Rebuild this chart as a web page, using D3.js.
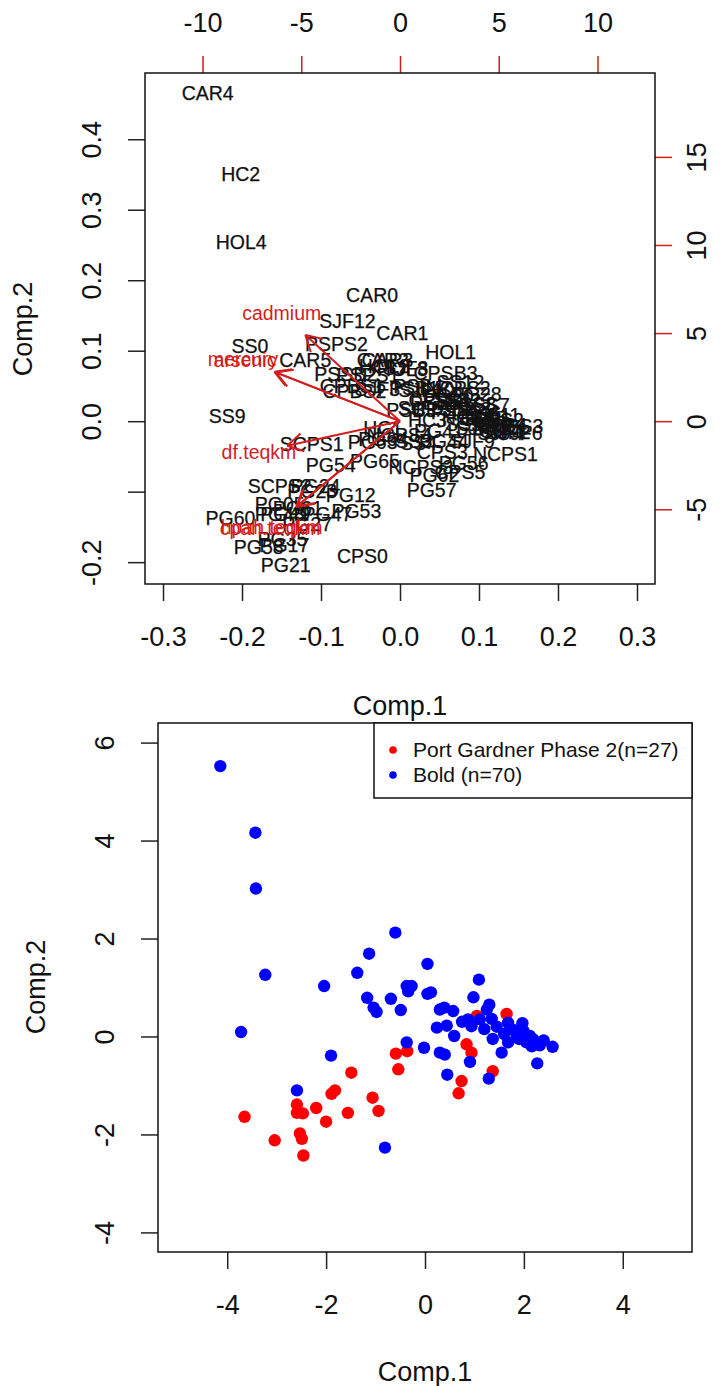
<!DOCTYPE html>
<html>
<head>
<meta charset="utf-8">
<script src="https://cdn.jsdelivr.net/npm/d3@7"></script>
<style>
  body { margin: 0; background: #fff; }
  text { font-family: "Liberation Sans", Arial, sans-serif; }
</style>
</head>
<body>
<script>
// Port Gardner Phase 2 sites (red) - PCA scores
const pgSites = ["PG28", "PG30", "PG41", "PG44", "PG63", "PG64", "PG65", "PG56", "PG62", "PG57",
                 "PG54", "PG23", "PG24", "PG12", "PG53", "PG47", "PG27", "PG61", "PG21", "PG35",
                 "PG17", "PG05", "PG48", "PG49", "PG58", "PG60"];
const pgComp1 = [1.65, 1.05, 0.84, 0.94, -0.59, -0.36, -0.54, 1.37, 0.74, 0.68,
                 -1.49, -1.89, -1.82, -1.06, -0.94, -1.56, -2.00, -2.20, -2.46, -2.53,
                 -2.49, -2.59, -2.59, -2.47, -3.04, -3.65];
const pgComp2 = [0.46, 0.42, -0.16, -0.33, -0.35, -0.30, -0.67, -0.71, -0.91, -1.16,
                 -0.74, -1.17, -1.10, -1.25, -1.52, -1.56, -1.74, -1.46, -2.43, -1.98,
                 -2.09, -1.39, -1.56, -1.57, -2.12, -1.64];

// Bold sites (blue)
const boldSites = ["CAR4", "HC2", "HOL4", "CAR0", "SJF12", "SS0", "PSPS2", "CAR5", "PSSB2", "CPBS1",
                   "CPBS2", "PSPS1", "SJF3", "CAR2", "CAR3", "HOL2", "CAR1", "HOL3", "SJF8", "HOL1",
                   "CPSB3", "PSB1", "PSB4", "SJF10", "SS12", "NCPS2", "CPSB1", "CPSB2", "SS1", "SS2",
                   "PSB3", "SJF5", "HC3", "HC1", "NCPS4", "SS3", "SS4", "SS5", "SS8", "SS6",
                   "SS7", "CPS1", "CPS2", "CPS4", "SJF1", "SJF2", "SJF4", "SJF6", "SJF7", "SJF9",
                   "NCPS1", "CPS3", "NCPS3", "CPS5", "SCPS1", "SCPS2", "SS9", "CPS0", "SJF11", "SS10",
                   "SS11", "NCPS5", "PSB5", "PSB6", "SCPS3", "SS13"];
const boldComp1 = [-4.14, -3.43, -3.42, -0.60, -1.13, -3.23, -1.37, -2.04, -1.17, -1.04,
                   -0.98, -0.69, -0.49, -0.37, -0.27, -0.34, 0.05, 0.05, 0.12, 1.09,
                   0.98, 0.30, 0.39, 0.57, 1.30, 1.25, 0.87, 0.94, 1.11, 1.35,
                   0.24, 0.44, 0.59, -0.37, -0.02, 0.30, 0.40, 1.37, 1.68, 1.78,
                   1.97, 1.85, 2.12, 2.19, 2.22, 2.32, 2.16, 2.58, 1.68, 1.55,
                   2.27, 0.91, 0.45, 1.29, -1.90, -2.59, -3.72, -0.81, 2.00, 1.90,
                   2.05, 1.60, 0.75, 1.20, 2.40, 1.45];
const boldComp2 = [5.52, 4.16, 3.02, 2.12, 1.69, 1.26, 1.30, 1.03, 0.79, 0.59,
                   0.50, 0.77, 0.54, 1.03, 1.03, 0.92, 1.48, 0.87, 0.90, 1.16,
                   0.80, 0.55, 0.59, 0.52, 0.65, 0.55, 0.35, 0.21, 0.35, 0.36,
                   0.18, 0.22, 0.01, -0.12, -0.23, -0.33, -0.37, -0.05, 0.28, 0.14,
                   0.27, 0.04, 0.01, -0.06, -0.16, -0.18, -0.20, -0.21, -0.12, -0.33,
                   -0.55, -0.52, -0.78, -0.86, -0.39, -1.10, 0.09, -2.27, 0.10, -0.05,
                   -0.12, 0.05, 0.30, 0.15, -0.08, 0.20];

// variable loadings (red arrows, top/right axis units)
const loadNames = ["cadmium", "arsenic", "mercury", "df.teqkm", "hpah.teqkm", "cpah.teqkm"];
const loadComp1 = [-5.99, -7.85, -7.95, -7.14, -6.50, -6.58];
const loadComp2 = [6.11, 3.46, 3.50, -1.74, -6.02, -6.09];

// tick values / labels
const biXTicks = [-0.3, -0.2, -0.1, 0, 0.1, 0.2, 0.3];
const biYTicks = [-0.2, -0.1, 0, 0.1, 0.2, 0.3, 0.4];
const biYShown = [-0.2, 0, 0.1, 0.2, 0.3, 0.4];
const redXTicks = [-10, -5, 0, 5, 10];
const redYTicks = [-5, 0, 5, 10, 15];
const scXTicks = [-4, -2, 0, 2, 4];
const scYTicks = [-4, -2, 0, 2, 4, 6];
const legendLabels = ["Port Gardner Phase 2(n=27)", "Bold (n=70)"];
const groupColors = ["#ff0000", "#0000ff"];

const red = "#d41e1e";
const ink = "#111";

const svg = d3.select("body").append("svg")
  .attr("width", 722).attr("height", 1386)
  .style("background", "#fff");

// ---------- top panel: biplot ----------
const ratio = 40;          // loadings axis / scores axis
const scoreScale = [0.0588, 0.0843];  // biplot scaling of scores
const xTop = d3.scaleLinear().domain([-0.3228, 0.3228]).range([145, 655]);
const yTop = d3.scaleLinear().domain([-0.231, 0.494]).range([584, 73]);
const xRed = d3.scaleLinear().domain(xTop.domain().map(d => d * ratio)).range(xTop.range());
const yRed = d3.scaleLinear().domain(yTop.domain().map(d => d * ratio)).range(yTop.range());

function tidy(g, col) {
  g.select(".domain").remove();
  g.selectAll(".tick line").attr("stroke", col).attr("stroke-width", 1.5);
  g.selectAll(".tick text").attr("fill", ink).style("font-size", "27px");
}

svg.append("g").attr("transform", "translate(0,584)")
  .call(d3.axisBottom(xTop).tickValues(biXTicks).tickSize(17).tickFormat(d => d.toFixed(1)))
  .call(g => tidy(g, "#222"))
  .call(g => g.selectAll(".tick text").attr("y", 53).attr("dy", "0.35em"));

svg.append("g").attr("transform", "translate(145,0)")
  .call(d3.axisLeft(yTop).tickValues(biYTicks).tickSize(17)
    .tickFormat(d => biYShown.includes(d) ? d.toFixed(1) : ""))
  .call(g => tidy(g, "#222"))
  .call(g => g.selectAll(".tick text").attr("transform", "rotate(-90)")
    .attr("x", 0).attr("y", -53).attr("dy", "0.35em").attr("text-anchor", "middle"));

svg.append("g").attr("transform", "translate(0,73)")
  .call(d3.axisTop(xRed).tickValues(redXTicks).tickSize(17).tickFormat(d => String(d)))
  .call(g => tidy(g, red))
  .call(g => g.selectAll(".tick text").attr("y", -50).attr("dy", "0.35em"));

svg.append("g").attr("transform", "translate(655,0)")
  .call(d3.axisRight(yRed).tickValues(redYTicks).tickSize(17).tickFormat(d => String(d)))
  .call(g => tidy(g, red))
  .call(g => g.selectAll(".tick text").attr("transform", "rotate(-90)")
    .attr("x", 0).attr("y", 42).attr("dy", "0.35em").attr("text-anchor", "middle"));

svg.append("rect").attr("x", 145).attr("y", 73).attr("width", 510).attr("height", 511)
  .attr("fill", "none").attr("stroke", "#111").attr("stroke-width", 1.5);

// site labels
const sites = [];
pgSites.forEach((s, i) => sites.push({ name: s, c1: pgComp1[i], c2: pgComp2[i] }));
boldSites.forEach((s, i) => sites.push({ name: s, c1: boldComp1[i], c2: boldComp2[i] }));

svg.append("g").selectAll("text").data(sites).join("text")
  .attr("x", d => xTop(d.c1 * scoreScale[0]))
  .attr("y", d => yTop(d.c2 * scoreScale[1]))
  .attr("dy", "0.35em")
  .attr("text-anchor", "middle")
  .style("font-size", "19.5px")
  .attr("fill", ink)
  .attr("stroke", ink).attr("stroke-width", 0.25)
  .text(d => d.name);

// arrows
const loads = loadNames.map((n, i) => ({ name: n, c1: loadComp1[i], c2: loadComp2[i] }));
const ag = svg.append("g").attr("stroke", red).attr("stroke-width", 2).attr("fill", "none");
loads.forEach(d => {
  const x0 = xRed(0), y0 = yRed(0);
  const x1 = xRed(d.c1 * 0.8), y1 = yRed(d.c2 * 0.8);
  ag.append("line").attr("x1", x0).attr("y1", y0).attr("x2", x1).attr("y2", y1);
  const ang = Math.atan2(y1 - y0, x1 - x0);
  [Math.PI / 6, -Math.PI / 6].forEach(a => {
    ag.append("line").attr("x1", x1).attr("y1", y1)
      .attr("x2", x1 - 18 * Math.cos(ang + a))
      .attr("y2", y1 - 18 * Math.sin(ang + a));
  });
});
svg.append("g").selectAll("text").data(loads).join("text")
  .attr("x", d => xRed(d.c1))
  .attr("y", d => yRed(d.c2))
  .attr("dy", "0.35em")
  .attr("text-anchor", "middle")
  .style("font-size", "19.5px")
  .attr("fill", red)
  .text(d => d.name);

svg.append("text").attr("x", 400).attr("y", 706).attr("dy", "0.35em")
  .attr("text-anchor", "middle").style("font-size", "27px").attr("fill", ink).text("Comp.1");
svg.append("text").attr("transform", "translate(23,329) rotate(-90)").attr("dy", "0.35em")
  .attr("text-anchor", "middle").style("font-size", "27px").attr("fill", ink).text("Comp.2");

// ---------- bottom panel: scores ----------
const xBot = d3.scaleLinear().domain([-5.4, 5.4]).range([158, 692]);
const yBot = d3.scaleLinear().domain([-4.4, 6.4]).range([1252, 723]);

svg.append("g").attr("transform", "translate(0,1252)")
  .call(d3.axisBottom(xBot).tickValues(scXTicks).tickSize(17).tickFormat(d => String(d)))
  .call(g => tidy(g, "#222"))
  .call(g => g.selectAll(".tick text").attr("y", 53).attr("dy", "0.35em"));

svg.append("g").attr("transform", "translate(158,0)")
  .call(d3.axisLeft(yBot).tickValues(scYTicks).tickSize(17).tickFormat(d => String(d)))
  .call(g => tidy(g, "#222"))
  .call(g => g.selectAll(".tick text").attr("transform", "rotate(-90)")
    .attr("x", 0).attr("y", -53).attr("dy", "0.35em").attr("text-anchor", "middle"));

svg.append("rect").attr("x", 158).attr("y", 723).attr("width", 534).attr("height", 529)
  .attr("fill", "none").attr("stroke", "#111").attr("stroke-width", 1.5);

svg.append("g").selectAll("circle").data(pgComp1).join("circle")
  .attr("cx", d => xBot(d))
  .attr("cy", (d, i) => yBot(pgComp2[i]))
  .attr("r", 6.2).attr("fill", groupColors[0]);

svg.append("g").selectAll("circle").data(boldComp1).join("circle")
  .attr("cx", d => xBot(d))
  .attr("cy", (d, i) => yBot(boldComp2[i]))
  .attr("r", 6.2).attr("fill", groupColors[1]);

// legend
const lg = svg.append("g");
lg.append("rect").attr("x", 374).attr("y", 723).attr("width", 318).attr("height", 75)
  .attr("fill", "#fff").attr("stroke", "#111").attr("stroke-width", 1.5);
legendLabels.forEach((t, i) => {
  lg.append("circle").attr("cx", 393).attr("cy", 750 + i * 25).attr("r", 3.8).attr("fill", groupColors[i]);
  lg.append("text").attr("x", 413).attr("y", 750 + i * 25).attr("dy", "0.35em")
    .style("font-size", "21px").attr("fill", ink).text(t);
});

svg.append("text").attr("x", 425).attr("y", 1372).attr("dy", "0.35em")
  .attr("text-anchor", "middle").style("font-size", "27px").attr("fill", ink).text("Comp.1");
svg.append("text").attr("transform", "translate(36,987) rotate(-90)").attr("dy", "0.35em")
  .attr("text-anchor", "middle").style("font-size", "27px").attr("fill", ink).text("Comp.2");
</script>
</body>
</html>
